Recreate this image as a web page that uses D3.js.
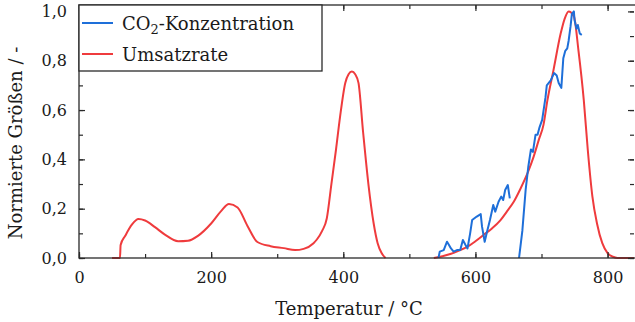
<!DOCTYPE html>
<html><head><meta charset="utf-8">
<script src="https://cdn.jsdelivr.net/npm/d3@7"></script>
<style>
html,body{margin:0;padding:0;background:#fff;}
svg text{font-family:"DejaVu Serif",serif;fill:#1a1a1a;}
</style></head>
<body><svg id="c" width="635" height="322"></svg>
<script>
// ---- data ----
const xTicks = [0, 200, 400, 600, 800];
const yTicks = [0, 0.2, 0.4, 0.6, 0.8, 1.0];
const seriesNames = ["CO2-Konzentration", "Umsatzrate"];

// Umsatzrate (red), two segments separated by a gap (null)
const rateT = [50,62,63,70,80,90,100,115,130,150,165,180,200,215,227,240,255,270,290,310,327,340,355,360,368,375,382,389,395,403,408,413,418,423,430,438,446,452,458,464,
  500,
  537,550,562,575,588,600,612,625,638,648,658,668,679,688,696,703,709,718,729,735,741,749,756,764,770,777,784,792,800,808,815,840];
const rateV = [0,0,0.053,0.09,0.135,0.158,0.152,0.125,0.095,0.068,0.07,0.09,0.14,0.19,0.219,0.205,0.13,0.065,0.048,0.04,0.032,0.037,0.06,0.075,0.11,0.16,0.30,0.44,0.57,0.71,0.745,0.756,0.745,0.71,0.51,0.30,0.14,0.06,0.02,0,
  null,
  0,0.007,0.016,0.03,0.046,0.068,0.093,0.12,0.154,0.19,0.228,0.28,0.345,0.41,0.48,0.54,0.64,0.76,0.91,0.97,1.0,0.98,0.84,0.64,0.44,0.25,0.14,0.06,0.02,0.005,0,0];

// CO2-Konzentration (blue), two segments
const co2T = [544,546,552,557,560,563,567,572,577,581,585,588,592,595,602,608,610,614,617,622,627,630,635,639,642,645,649,652,
  659,
  666,671,676,680,684,687,691,694,697,701,706,708,714,719,723,726,730,733,736,739,741,744,746,749,750,753,755,758,761];
const co2V = [0,0.026,0.032,0.066,0.053,0.039,0.026,0.032,0.032,0.073,0.053,0.039,0.10,0.154,0.168,0.178,0.127,0.066,0.10,0.154,0.215,0.188,0.228,0.249,0.235,0.276,0.296,0.242,
  null,
  0,0.11,0.276,0.37,0.44,0.43,0.50,0.50,0.53,0.56,0.65,0.70,0.72,0.75,0.74,0.71,0.69,0.81,0.84,0.85,0.88,0.94,0.99,1.0,0.965,0.93,0.945,0.91,0.905];

// ---- layout ----
const L = 79, R = 634, T = 5, B = 258;
const svg = d3.select("#c");
const x = d3.scaleLinear().domain([0, 840]).range([L, R]);
const y = d3.scaleLinear().domain([0, 1.026]).range([B, T]);
const red = "#ef3b3d", blue = "#1e6fd9", frame = "#2a2a2a";

svg.append("clipPath").attr("id","pc").append("rect")
  .attr("x", L).attr("y", T-2).attr("width", R-L+2).attr("height", B-T+4);

const rate = rateT.map((t,i)=>({t, v: rateV[i]}));
const co2 = co2T.map((t,i)=>({t, v: co2V[i]}));

const g = svg.append("g").attr("clip-path","url(#pc)");
g.append("path").datum(rate)
  .attr("fill","none").attr("stroke",red).attr("stroke-width",2)
  .attr("d", d3.line().defined(d=>d.v!==null).x(d=>x(d.t)).y(d=>y(d.v)).curve(d3.curveMonotoneX));
g.append("path").datum(co2)
  .attr("fill","none").attr("stroke",blue).attr("stroke-width",2).attr("stroke-linejoin","round")
  .attr("d", d3.line().defined(d=>d.v!==null).x(d=>x(d.t)).y(d=>y(d.v)));

// ---- axes (ticks inward) ----
const xMinor = d3.range(0, 841, 100);
const yMinor = d3.range(0, 1.01, 0.1);
svg.append("g").attr("transform",`translate(0,${B})`)
  .call(d3.axisBottom(x).tickValues(xMinor).tickSize(-4).tickFormat(""));
svg.append("g").attr("transform",`translate(0,${B})`)
  .call(d3.axisBottom(x).tickValues(xTicks).tickSize(-6).tickPadding(14)
    .tickFormat(d3.format("d")));
svg.append("g").attr("transform",`translate(0,${T})`)
  .call(d3.axisTop(x).tickValues(xMinor).tickSize(-4).tickFormat(""));
svg.append("g").attr("transform",`translate(0,${T})`)
  .call(d3.axisTop(x).tickValues(xTicks).tickSize(-6).tickFormat(""));
svg.append("g").attr("transform",`translate(${L},0)`)
  .call(d3.axisLeft(y).tickValues(yMinor).tickSize(-4).tickFormat(""));
svg.append("g").attr("transform",`translate(${L},0)`)
  .call(d3.axisLeft(y).tickValues(yTicks).tickSize(-6).tickPadding(12)
    .tickFormat(d=>d3.format(".1f")(d).replace(".",",")));
svg.append("g").attr("transform",`translate(${R},0)`)
  .call(d3.axisRight(y).tickValues(yMinor).tickSize(-4).tickFormat(""));
svg.append("g").attr("transform",`translate(${R},0)`)
  .call(d3.axisRight(y).tickValues(yTicks).tickSize(-6).tickFormat(""));

svg.selectAll(".domain").remove();
svg.selectAll(".tick line").attr("stroke",frame).attr("stroke-width",1.2);
svg.selectAll(".tick text").attr("font-family","DejaVu Serif").attr("font-size",16).attr("fill","#1a1a1a");

svg.append("rect").attr("x",L).attr("y",T).attr("width",R-L+5).attr("height",B-T)
  .attr("fill","none").attr("stroke",frame).attr("stroke-width",1.3);

// ---- legend ----
const lg = svg.append("g");
lg.append("rect").attr("x",L).attr("y",T).attr("width",243).attr("height",66)
  .attr("fill","#fff").attr("stroke",frame).attr("stroke-width",1.3);
const items = [{name: seriesNames[0], color: blue, yy: 23},{name: seriesNames[1], color: red, yy: 54}];
items.forEach(it=>{
  lg.append("line").attr("x1",82).attr("x2",113).attr("y1",it.yy).attr("y2",it.yy)
    .attr("stroke",it.color).attr("stroke-width",2);
});
const t1 = lg.append("text").attr("x",122).attr("y",30).attr("font-size",18);
t1.append("tspan").text("CO");
t1.append("tspan").text("2").attr("font-size",13).attr("dy",4);
t1.append("tspan").text("-Konzentration").attr("dy",-4);
lg.append("text").attr("x",122).attr("y",61).attr("font-size",18).text(seriesNames[1]);

// ---- titles ----
svg.append("text").attr("x",349).attr("y",315).attr("text-anchor","middle")
  .attr("font-size",18).text("Temperatur / °C");
svg.append("text").attr("transform","translate(22,143) rotate(-90)").attr("text-anchor","middle")
  .attr("font-size",18).text("Normierte Größen / -");
</script></body></html>
